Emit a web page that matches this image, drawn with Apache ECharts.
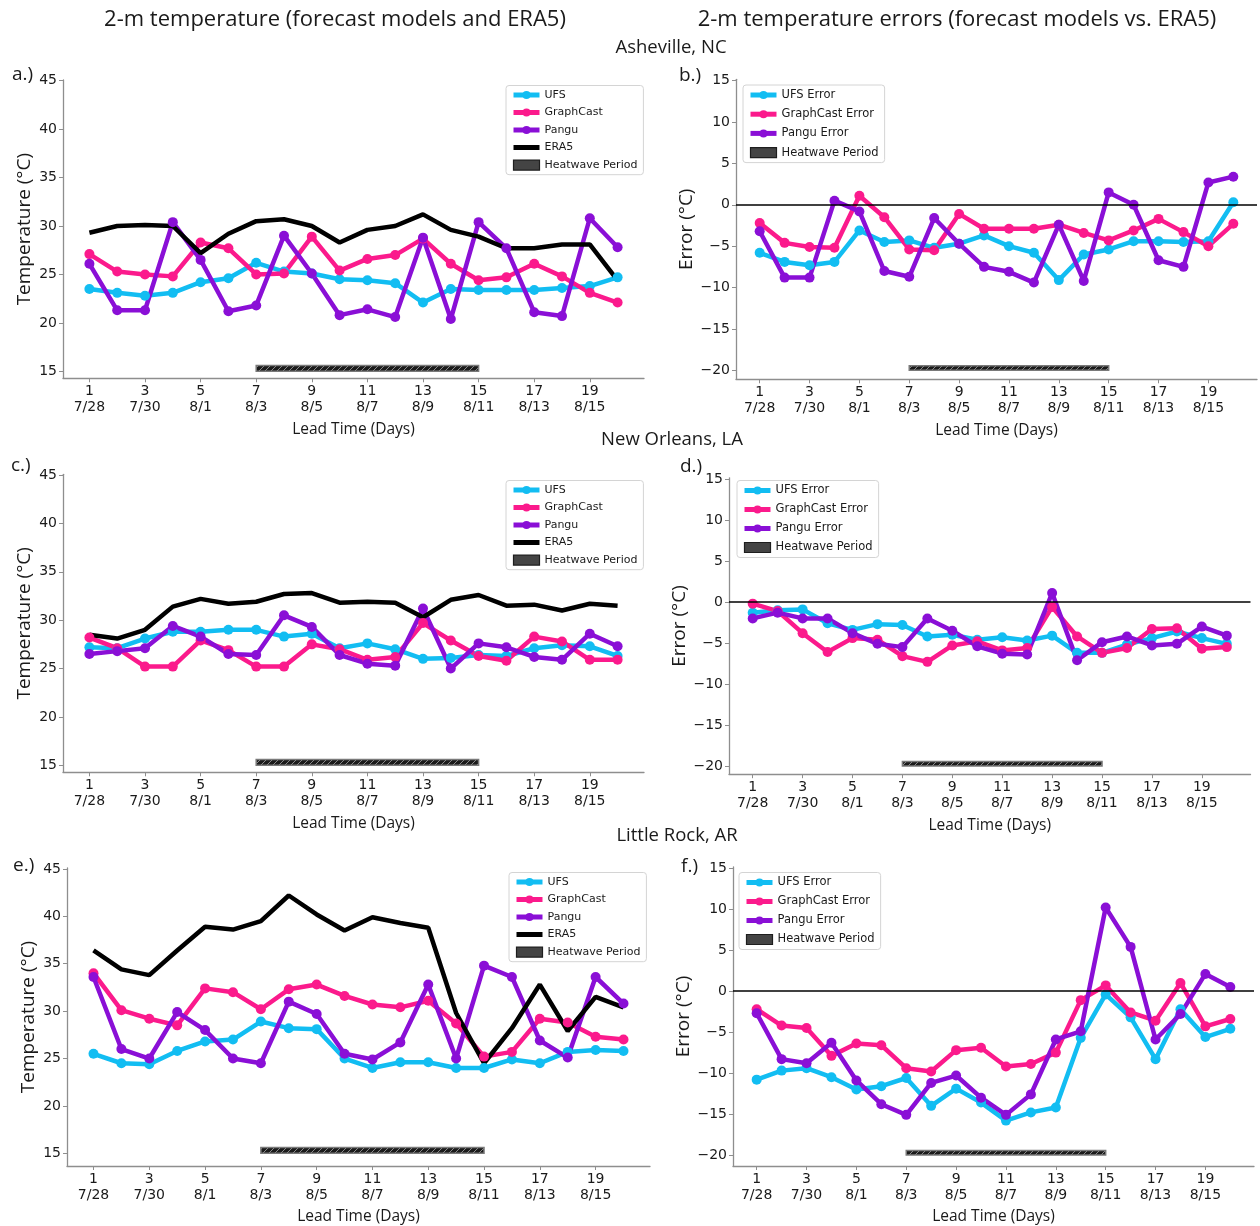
<!DOCTYPE html>
<html>
<head>
<meta charset="utf-8">
<title>2-m temperature forecasts and errors</title>
<script src="https://cdn.jsdelivr.net/npm/echarts@6/dist/echarts.min.js"></script>
<style>
  html, body { margin: 0; padding: 0; background: #ffffff; }
  #chart { width: 1260px; height: 1226px; }
</style>
</head>
<body>
<div id="chart"></div>
<script>
// ---- Axes: lead time (days) and the valid dates they map to ----
const leadDays = [1, 2, 3, 4, 5, 6, 7, 8, 9, 10, 11, 12, 13, 14, 15, 16, 17, 18, 19, 20];
const dateLabels = ['7/28', '7/29', '7/30', '7/31', '8/1', '8/2', '8/3', '8/4', '8/5', '8/6',
                    '8/7', '8/8', '8/9', '8/10', '8/11', '8/12', '8/13', '8/14', '8/15', '8/16'];
const tickDays = [1, 3, 5, 7, 9, 11, 13, 15, 17, 19];
const tempTicks = [15, 20, 25, 30, 35, 40, 45];
const errorTicks = [-20, -15, -10, -5, 0, 5, 10, 15];

// Heatwave period (lead days) and the band it is drawn in on each kind of panel
const heatwaveDays = [7, 15];
const heatwaveTempBand = [15, 15.6];
const heatwaveErrorBand = [-20, -19.45];

// ---- Asheville, NC ----
const ashevilleUFS       = [23.5, 23.1, 22.8, 23.1, 24.2, 24.6, 26.2, 25.3, 25.1, 24.5, 24.4, 24.1, 22.1, 23.5, 23.4, 23.4, 23.4, 23.6, 23.8, 24.7];
const ashevilleGraphCast = [27.1, 25.3, 25.0, 24.8, 28.3, 27.7, 25.0, 25.1, 28.9, 25.4, 26.6, 27.0, 28.7, 26.1, 24.4, 24.7, 26.1, 24.8, 23.1, 22.1];
const ashevillePangu     = [26.1, 21.3, 21.3, 30.4, 26.5, 21.2, 21.8, 29.0, 25.1, 20.8, 21.4, 20.6, 28.8, 20.4, 30.4, 27.7, 21.1, 20.7, 30.8, 27.8];
const ashevilleERA5      = [29.3, 30.0, 30.1, 30.0, 27.2, 29.2, 30.5, 30.7, 30.0, 28.3, 29.6, 30.0, 31.2, 29.6, 28.9, 27.7, 27.7, 28.1, 28.1, 24.4];
const ashevilleUFSErr       = [-5.8, -6.9, -7.3, -6.9, -3.1, -4.5, -4.3, -5.2, -4.7, -3.7, -5.0, -5.8, -9.1, -6.0, -5.4, -4.4, -4.4, -4.5, -4.4, 0.3];
const ashevilleGraphCastErr = [-2.2, -4.6, -5.1, -5.2, 1.1, -1.5, -5.4, -5.5, -1.1, -2.9, -2.9, -2.9, -2.4, -3.4, -4.3, -3.1, -1.7, -3.3, -5.0, -2.3];
const ashevillePanguErr     = [-3.2, -8.8, -8.8, 0.5, -0.8, -8.0, -8.7, -1.6, -4.7, -7.5, -8.1, -9.4, -2.4, -9.2, 1.5, 0.0, -6.7, -7.5, 2.7, 3.4];

// ---- New Orleans, LA ----
const newOrleansUFS       = [27.2, 27.1, 28.1, 28.8, 28.8, 29.0, 29.0, 28.3, 28.6, 27.1, 27.6, 27.0, 26.0, 26.1, 26.4, 26.3, 27.1, 27.4, 27.3, 26.3];
const newOrleansGraphCast = [28.2, 27.1, 25.2, 25.2, 27.9, 26.9, 25.2, 25.2, 27.5, 27.0, 25.9, 26.2, 29.7, 27.9, 26.3, 25.8, 28.3, 27.8, 25.9, 25.9];
const newOrleansPangu     = [26.5, 26.8, 27.1, 29.4, 28.3, 26.5, 26.4, 30.5, 29.3, 26.4, 25.5, 25.3, 31.2, 25.0, 27.6, 27.2, 26.2, 25.9, 28.6, 27.3];
const newOrleansERA5      = [28.5, 28.1, 29.0, 31.4, 32.2, 31.7, 31.9, 32.7, 32.8, 31.8, 31.9, 31.8, 30.3, 32.1, 32.6, 31.5, 31.6, 31.0, 31.7, 31.5];
const newOrleansUFSErr       = [-1.3, -1.0, -0.9, -2.6, -3.4, -2.7, -2.8, -4.2, -4.0, -4.6, -4.3, -4.7, -4.1, -6.2, -6.2, -5.2, -4.4, -3.6, -4.4, -5.1];
const newOrleansGraphCastErr = [-0.2, -1.1, -3.8, -6.1, -4.4, -4.6, -6.6, -7.3, -5.3, -4.8, -5.9, -5.6, -0.6, -4.2, -6.2, -5.6, -3.3, -3.2, -5.7, -5.5];
const newOrleansPanguErr     = [-2.0, -1.3, -2.0, -2.0, -3.8, -5.1, -5.5, -2.0, -3.5, -5.4, -6.3, -6.4, 1.1, -7.1, -4.9, -4.2, -5.3, -5.1, -3.0, -4.1];

// ---- Little Rock, AR ----
const littleRockUFS       = [25.5, 24.5, 24.4, 25.8, 26.8, 27.0, 28.9, 28.2, 28.1, 25.0, 24.0, 24.6, 24.6, 24.0, 24.0, 24.9, 24.5, 25.7, 25.9, 25.8];
const littleRockGraphCast = [34.0, 30.1, 29.2, 28.5, 32.4, 32.0, 30.2, 32.3, 32.8, 31.6, 30.7, 30.4, 31.1, 28.7, 25.2, 25.7, 29.2, 28.8, 27.3, 27.0];
const littleRockPangu     = [33.6, 26.0, 25.0, 29.9, 28.0, 25.0, 24.5, 31.0, 29.7, 25.5, 24.9, 26.7, 32.8, 25.0, 34.8, 33.6, 26.9, 25.1, 33.6, 30.8];
const littleRockERA5      = [36.4, 34.4, 33.8, 36.4, 38.9, 38.6, 39.5, 42.2, 40.2, 38.5, 39.9, 39.3, 38.8, 29.8, 24.5, 28.2, 32.8, 27.9, 31.5, 30.4];
const littleRockUFSErr       = [-10.8, -9.7, -9.4, -10.5, -12.0, -11.6, -10.6, -14.0, -11.9, -13.6, -15.8, -14.8, -14.2, -5.7, -0.4, -3.2, -8.3, -2.2, -5.6, -4.6];
const littleRockGraphCastErr = [-2.2, -4.2, -4.5, -7.9, -6.4, -6.6, -9.4, -9.8, -7.2, -6.9, -9.2, -8.9, -7.5, -1.1, 0.7, -2.6, -3.6, 1.0, -4.3, -3.4];
const littleRockPanguErr     = [-2.7, -8.3, -8.8, -6.3, -10.9, -13.8, -15.1, -11.2, -10.3, -13.0, -15.1, -12.6, -5.9, -4.9, 10.2, 5.4, -5.9, -2.8, 2.1, 0.5];

// ---- Styling ----
const COLORS = { ufs: '#12bdf2', graphcast: '#fb1a8c', pangu: '#8a0fd6', era5: '#000000' };
const AXIS_GREY = '#8e8e8e';
const TEXT = '#1a1a1a';
const TICK_FONT = 'DejaVu Sans';
const LABEL_FONT = 'Open Sans';
const LINE_WIDTH = 4.5;
const MARKER_SIZE = 10;

// Diagonal hatch used to fill the heatwave bar
const hatch = document.createElement('canvas');
hatch.width = 6; hatch.height = 6;
(function () {
  const c = hatch.getContext('2d');
  c.fillStyle = '#1b1b1b';
  c.fillRect(0, 0, 6, 6);
  c.strokeStyle = '#8a8a8a';
  c.lineWidth = 1;
  c.beginPath();
  c.moveTo(0, 6); c.lineTo(6, 0);
  c.moveTo(-1, 1); c.lineTo(1, -1);
  c.moveTo(5, 7); c.lineTo(7, 5);
  c.stroke();
})();

// Panel geometry: pixel frame of each plot area and its axis ranges
const panels = [
  { kind: 'temp',  grid: { left: 63,  top: 80,    width: 581, height: 298.3 }, y: [14.28, 45.07] },
  { kind: 'error', grid: { left: 736, top: 79.3,  width: 521, height: 300 },   y: [-21.09, 15.17] },
  { kind: 'temp',  grid: { left: 63,  top: 474.3, width: 581, height: 298 },   y: [14.28, 45.07] },
  { kind: 'error', grid: { left: 729, top: 477.8, width: 521.5, height: 296.4 }, y: [-21.0, 15.15] },
  { kind: 'temp',  grid: { left: 67,  top: 868,   width: 583, height: 298 },   y: [13.66, 45.1] },
  { kind: 'error', grid: { left: 733, top: 867,   width: 521, height: 299 },   y: [-21.34, 15.15] }
];

const panelData = [
  { ufs: ashevilleUFS,  graphcast: ashevilleGraphCast,  pangu: ashevillePangu,  era5: ashevilleERA5 },
  { ufs: ashevilleUFSErr, graphcast: ashevilleGraphCastErr, pangu: ashevillePanguErr },
  { ufs: newOrleansUFS, graphcast: newOrleansGraphCast, pangu: newOrleansPangu, era5: newOrleansERA5 },
  { ufs: newOrleansUFSErr, graphcast: newOrleansGraphCastErr, pangu: newOrleansPanguErr },
  { ufs: littleRockUFS, graphcast: littleRockGraphCast, pangu: littleRockPangu, era5: littleRockERA5 },
  { ufs: littleRockUFSErr, graphcast: littleRockGraphCastErr, pangu: littleRockPanguErr }
];

const legendBoxes = [
  { left: 506, top: 85.5, gap: 6.5, size: 11 },
  { left: 743, top: 85,   gap: 7.2, size: 11.5 },
  { left: 506, top: 480.5, gap: 6.5, size: 11 },
  { left: 737, top: 480.5, gap: 7,  size: 11.5 },
  { left: 509, top: 872.5, gap: 6.5, size: 11 },
  { left: 739, top: 872.5, gap: 7,  size: 11.5 }
];

const pairs = vals => leadDays.map((d, i) => [d, vals[i]]);
const minus = v => String(v).replace('-', '\u2212');

const grids = [], xAxes = [], yAxes = [], series = [], legends = [];

panels.forEach((p, i) => {
  const isTemp = p.kind === 'temp';
  grids.push(Object.assign({ containLabel: false, outerBoundsMode: 'none' }, p.grid));

  xAxes.push({
    type: 'value', gridIndex: i, min: 0.05, max: 20.95,
    axisLine: { show: true, onZero: false, lineStyle: { color: AXIS_GREY, width: 1.3 } },
    axisTick: { show: true, customValues: tickDays, length: 4, lineStyle: { color: AXIS_GREY, width: 1 } },
    axisLabel: {
      customValues: tickDays,
      formatter: v => v + '\n' + dateLabels[v - 1],
      fontFamily: TICK_FONT, fontSize: 14, color: TEXT, lineHeight: 16, margin: 5
    },
    splitLine: { show: false },
    name: 'Lead Time (Days)', nameLocation: 'middle', nameGap: 43,
    nameTextStyle: { fontFamily: LABEL_FONT, fontSize: 15.5, color: TEXT }
  });

  yAxes.push({
    type: 'value', gridIndex: i, min: p.y[0], max: p.y[1],
    axisLine: { show: true, onZero: false, lineStyle: { color: AXIS_GREY, width: 1.3 } },
    axisTick: { show: true, customValues: isTemp ? tempTicks : errorTicks, length: 4, lineStyle: { color: AXIS_GREY, width: 1 } },
    axisLabel: {
      customValues: isTemp ? tempTicks : errorTicks,
      formatter: minus,
      fontFamily: TICK_FONT, fontSize: 14, color: TEXT, margin: 6
    },
    splitLine: { show: false },
    name: isTemp ? 'Temperature (\u00b0C)' : 'Error (\u00b0C)',
    nameLocation: 'middle', nameGap: isTemp ? 29 : 36, nameRotate: 90,
    nameTextStyle: { fontFamily: LABEL_FONT, fontSize: 19, color: TEXT }
  });

  const d = panelData[i];
  const suffix = isTemp ? '' : ' Error';
  const lineSeries = (name, vals, color, withSymbol) => ({
    type: 'line', name: name, xAxisIndex: i, yAxisIndex: i,
    data: pairs(vals),
    symbol: withSymbol ? 'circle' : 'none', symbolSize: MARKER_SIZE, showSymbol: withSymbol,
    lineStyle: { color: color, width: LINE_WIDTH },
    itemStyle: { color: color },
    emphasis: { disabled: true },
    silent: true, animation: false
  });

  const ufs = lineSeries('UFS' + suffix, d.ufs, COLORS.ufs, true);
  if (!isTemp) {
    ufs.markLine = {
      silent: true, symbol: 'none', label: { show: false }, animation: false,
      lineStyle: { color: '#000', width: 1.5, type: 'solid' },
      data: [{ yAxis: 0 }]
    };
  }
  series.push(ufs);
  series.push(lineSeries('GraphCast' + suffix, d.graphcast, COLORS.graphcast, true));
  series.push(lineSeries('Pangu' + suffix, d.pangu, COLORS.pangu, true));
  if (isTemp) series.push(lineSeries('ERA5', d.era5, COLORS.era5, false));

  const band = isTemp ? heatwaveTempBand : heatwaveErrorBand;
  series.push({
    type: 'custom', name: 'Heatwave Period', xAxisIndex: i, yAxisIndex: i,
    data: [[heatwaveDays[0], heatwaveDays[1], band[0], band[1]]],
    encode: { x: [0, 1], y: [2, 3] },
    silent: true, animation: false,
    itemStyle: { color: '#3c3c3c' },
    renderItem: (params, api) => {
      const p0 = api.coord([api.value(0), api.value(2)]);
      const p1 = api.coord([api.value(1), api.value(3)]);
      return {
        type: 'rect',
        shape: { x: p0[0], y: p1[1], width: p1[0] - p0[0], height: p0[1] - p1[1] },
        style: { fill: { image: hatch, repeat: 'repeat' }, stroke: '#7a7a7a', lineWidth: 1.5 }
      };
    }
  });

  // Legend: markers keep the default line+dot icon, ERA5 is a plain bar of line
  const lb = legendBoxes[i];
  const names = isTemp ? ['UFS', 'GraphCast', 'Pangu'] : ['UFS Error', 'GraphCast Error', 'Pangu Error'];
  const items = names.map(n => ({ name: n }));
  if (isTemp) {
    items.push({ name: 'ERA5', icon: 'path://M0,0H26V5H0Z', itemStyle: { color: COLORS.era5 } });
  }
  items.push({
    name: 'Heatwave Period', icon: 'rect',
    itemStyle: { color: '#444444', borderColor: '#1e1e1e', borderWidth: 1.2 }
  });
  legends.push({
    orient: 'vertical', left: lb.left, top: lb.top,
    itemWidth: 26, itemHeight: 10, itemGap: lb.gap,
    padding: [4, 6, 4, 5],
    backgroundColor: 'rgba(255,255,255,0.85)', borderColor: '#d4d4d4', borderWidth: 1, borderRadius: 3,
    selectedMode: false,
    symbolKeepAspect: true,
    lineStyle: { width: 5 },
    textStyle: { fontFamily: TICK_FONT, fontSize: lb.size, color: TEXT },
    data: items
  });
});

// Column headings, city titles and panel letters
const text = (str, x, y, size, align) => ({
  type: 'text', x: x, y: y, silent: true,
  style: { text: str, font: size + 'px "' + LABEL_FONT + '"', fill: TEXT, textAlign: align || 'center', textVerticalAlign: 'middle' }
});
const graphics = [
  text('2-m temperature (forecast models and ERA5)', 335, 20, 22),
  text('2-m temperature errors (forecast models vs. ERA5)', 957, 20, 22),
  text('Asheville, NC', 671, 48, 18.5),
  text('New Orleans, LA', 672, 440, 18.5),
  text('Little Rock, AR', 677, 836, 18.5),
  text('a.)', 12, 75, 19, 'left'),
  text('b.)', 679, 76, 19, 'left'),
  text('c.)', 11, 466, 19, 'left'),
  text('d.)', 680, 467, 19, 'left'),
  text('e.)', 13, 866, 19, 'left'),
  text('f.)', 681, 867, 19, 'left')
];

const chart = echarts.init(document.getElementById('chart'), null, { renderer: 'canvas', width: 1260, height: 1226 });
chart.setOption({
  backgroundColor: '#ffffff',
  animation: false,
  grid: grids,
  xAxis: xAxes,
  yAxis: yAxes,
  legend: legends,
  series: series,
  graphic: graphics
});
</script>
</body>
</html>
